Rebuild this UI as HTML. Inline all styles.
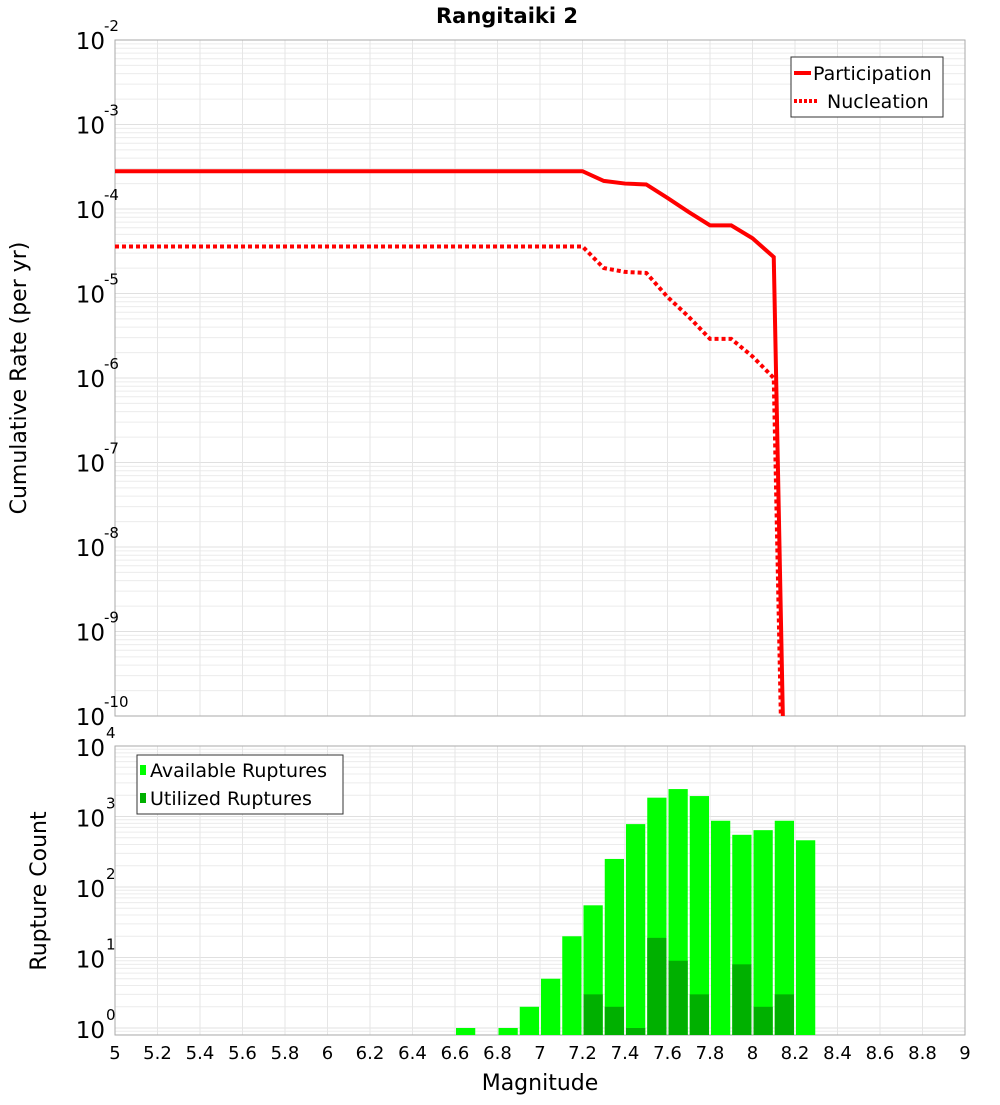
<!DOCTYPE html>
<html><head><meta charset="utf-8"><style>
body{margin:0;background:#fff;}
svg text{font-family:"DejaVu Sans","Liberation Sans",sans-serif;fill:#000;}
</style></head><body>
<svg id="c" width="1000" height="1100" xmlns="http://www.w3.org/2000/svg">
<text x="507" y="23" font-size="21" font-weight="bold" text-anchor="middle">Rangitaiki 2</text>
<text transform="translate(26,378) rotate(-90)" font-size="22" text-anchor="middle">Cumulative Rate (per yr)</text>
<text transform="translate(46,891) rotate(-90)" font-size="22" text-anchor="middle">Rupture Count</text>
<text x="540" y="1090" font-size="22" text-anchor="middle">Magnitude</text>
</svg>
<script>
const partMags=[5,7.2,7.3,7.4,7.5,7.6,7.7,7.8,7.9,8.0,8.1,8.15];
const partRates=[2.8e-4,2.8e-4,2.15e-4,2.0e-4,1.95e-4,1.35e-4,9.2e-5,6.4e-5,6.4e-5,4.5e-5,2.7e-5,1.2e-11];
const nuclMags=[5,7.2,7.3,7.4,7.5,7.6,7.7,7.8,7.9,8.0,8.1,8.15];
const nuclRates=[3.6e-5,3.6e-5,2.0e-5,1.8e-5,1.75e-5,9.1e-6,5.3e-6,2.9e-6,2.9e-6,1.8e-6,1.0e-6,1e-12];
const binMags=[6.6,6.8,6.9,7.0,7.1,7.2,7.3,7.4,7.5,7.6,7.7,7.8,7.9,8.0,8.1,8.2];
const availCounts=[1,1,2,5,20,55,250,780,1850,2450,1950,870,550,640,870,460];
const utilMags=[7.2,7.3,7.4,7.5,7.6,7.7,7.9,8.0,8.1];
const utilCounts=[3,2,1,19,9,3,8,2,3];
const xTicks=[5,5.2,5.4,5.6,5.8,6,6.2,6.4,6.6,6.8,7,7.2,7.4,7.6,7.8,8,8.2,8.4,8.6,8.8,9];
const xTickLabels=["5","5.2","5.4","5.6","5.8","6","6.2","6.4","6.6","6.8","7","7.2","7.4","7.6","7.8","8","8.2","8.4","8.6","8.8","9"];
const topExps=[-2,-3,-4,-5,-6,-7,-8,-9,-10];
const botExps=[4,3,2,1,0];

const svg=document.getElementById('c');const NS='http://www.w3.org/2000/svg';
function mk(t,a,p){const e=document.createElementNS(NS,t);for(const k in a)e.setAttribute(k,a[k]);(p||svg).appendChild(e);return e;}
const X0=115,X1=965;
const x=m=>X0+(m-5)/4*(X1-X0);
const T0=40,T1=716,yT=v=>T0+(-2-Math.log10(v))*(T1-T0)/8;
const B0=746,DEC=70.5,yB=v=>B0+(4-Math.log10(v))*DEC,B1=1035;

// top panel
const gTop=mk('g',{});


mk('rect',{x:X0,y:T0,width:X1-X0,height:T1-T0,fill:'#fff'},gTop);
for(let e=-10;e<-2;e++)for(let k=1;k<10;k++){const yy=yT(k*Math.pow(10,e));mk('line',{x1:X0,x2:X1,y1:yy,y2:yy,stroke:k==1?'#e0e0e0':'#ececec','stroke-width':1},gTop);}
xTicks.forEach(m=>mk('line',{x1:x(m),x2:x(m),y1:T0,y2:T1,stroke:'#e6e6e6'},gTop));
const cp=mk('clipPath',{id:'ct'});mk('rect',{x:X0,y:T0,width:X1-X0,height:T1-T0},cp);
function line(ms,vs,dash,name){const p=mk('polyline',{points:ms.map((m,i)=>x(m)+','+yT(vs[i])).join(' '),fill:'none',stroke:'#ff0000','stroke-width':4,'clip-path':'url(#ct)'});if(dash)p.setAttribute('stroke-dasharray','4,3');}
line(partMags,partRates,false,'participation-line');
line(nuclMags,nuclRates,true,'nucleation-line');
mk('rect',{x:X0,y:T0,width:X1-X0,height:T1-T0,fill:'none',stroke:'#aaa'},gTop);
topExps.forEach(e=>{const t=mk('text',{x:105,y:yT(Math.pow(10,e))+9,'font-size':23,'text-anchor':'end'});t.textContent='10';const s=mk('text',{x:104,y:yT(Math.pow(10,e))-9,'font-size':15});s.textContent=e;});
// top legend
const lg=mk('g',{});
mk('rect',{x:791,y:57,width:152,height:60,fill:'#fff',stroke:'#333'},lg);
mk('line',{x1:794,x2:811,y1:73,y2:73,stroke:'#f00','stroke-width':4},lg);
mk('line',{x1:794,x2:818,y1:101,y2:101,stroke:'#f00','stroke-width':4,'stroke-dasharray':'3,2'},lg);
let t=mk('text',{x:813,y:80,'font-size':19},lg);t.textContent='Participation';
t=mk('text',{x:827,y:108,'font-size':19},lg);t.textContent='Nucleation';

// bottom panel
const gB=mk('g',{});
mk('rect',{x:X0,y:B0,width:X1-X0,height:B1-B0,fill:'#fff'},gB);
for(let e=-1;e<4;e++)for(let k=1;k<10;k++){const yy=yB(k*Math.pow(10,e));if(yy>B1||yy<B0)continue;mk('line',{x1:X0,x2:X1,y1:yy,y2:yy,stroke:k==1?'#e0e0e0':'#ececec'},gB);}
xTicks.forEach(m=>mk('line',{x1:x(m),x2:x(m),y1:B0,y2:B1,stroke:'#e6e6e6'},gB));
binMags.forEach((m,i)=>{const yy=yB(availCounts[i]);const r=mk('rect',{x:x(m)+1,y:yy,width:x(m+0.1)-x(m)-2,height:B1-yy,fill:'#00ff00'});});
utilMags.forEach((m,i)=>{const yy=yB(utilCounts[i]);const r=mk('rect',{x:x(m)+1,y:yy,width:x(m+0.1)-x(m)-2,height:B1-yy,fill:'#00b000'});});
mk('rect',{x:X0,y:B0,width:X1-X0,height:B1-B0,fill:'none',stroke:'#aaa'},gB);
botExps.forEach(e=>{const yy=yB(Math.pow(10,e));const t=mk('text',{x:105,y:yy+10,'font-size':23,'text-anchor':'end'});t.textContent='10';const s=mk('text',{x:106,y:yy-8,'font-size':15});s.textContent=e;});
xTicks.forEach((m,i)=>{const t=mk('text',{x:x(m),y:1059,'font-size':18,'text-anchor':'middle'});t.textContent=xTickLabels[i];});
const lb=mk('g',{});
mk('rect',{x:137,y:755,width:206,height:59,fill:'#fff',stroke:'#333'},lb);
mk('rect',{x:140,y:765,width:6,height:10,fill:'#00ff00'},lb);
mk('rect',{x:140,y:793,width:6,height:10,fill:'#00b000'},lb);
t=mk('text',{x:150,y:777,'font-size':19},lb);t.textContent='Available Ruptures';
t=mk('text',{x:150,y:805,'font-size':19},lb);t.textContent='Utilized Ruptures';
</script>
</body></html>
